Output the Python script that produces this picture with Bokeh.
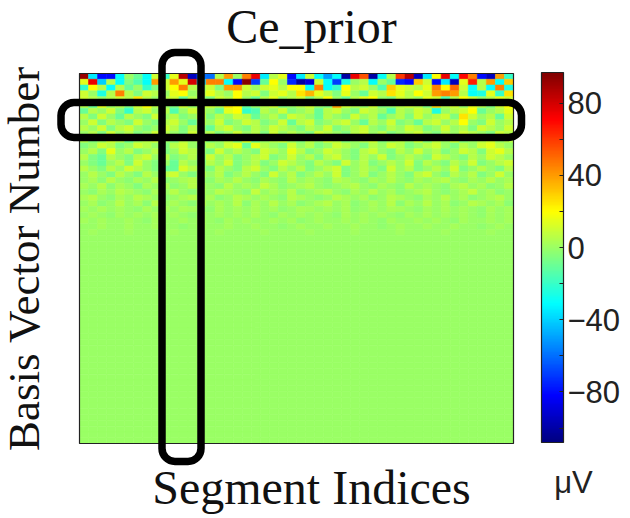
import numpy as np
from bokeh.plotting import figure
from bokeh.models import (ColumnDataSource, LinearColorMapper, ColorBar, FixedTicker,
                          Range1d, Label, BoxAnnotation)
from bokeh.transform import transform
from bokeh.embed import file_html
from bokeh.resources import INLINE

# ---------------- data (values in microvolts) ----------------
n_segments = 48
n_basis = 64
clim_low, clim_high = -108, 97
cbar_ticks = [-80, -40, 0, 40, 80]
cbar_minor = [-100, -60, -20, 20, 60]

rows_strong = [
    [92,-35,-80,-80,-30,0,-10,-30,10,-20,15,85,-95,-60,-60,5,40,0,45,75,-35,5,15,-80,-35,10,-30,-50,-30,-100,75,55,-100,-30,5,60,85,-95,-35,20,75,-30,70,45,-80,-95,40,-20],
    [15,75,-40,5,-30,-5,-15,-30,40,10,40,15,80,-40,45,45,-30,-80,95,-70,-10,20,0,-75,-100,-90,10,-30,-70,-25,0,5,-30,0,-10,-75,-80,30,10,-80,-35,-95,15,65,5,40,-30,30],
    [-20,20,5,-30,5,-10,0,-20,-5,10,20,45,5,0,10,-5,40,40,10,0,10,15,5,20,20,-30,45,-30,-20,20,5,10,0,-15,30,15,10,5,15,45,20,50,10,-30,5,-30,45,-25],
    [10,0,-25,5,45,5,-5,10,5,0,15,20,0,5,15,5,0,20,5,10,-5,10,15,5,25,35,15,5,-5,15,0,-10,10,5,25,15,5,20,10,40,45,40,5,-30,-25,15,-20,25],
    [10,5,0,5,10,5,25,5,0,5,10,-10,5,0,-5,10,5,20,0,-10,5,15,0,5,10,-5,5,20,0,-10,5,15,20,0,-5,10,5,0,15,10,-15,5,20,10,0,5,15,10],
]

rows_medium = [
    [5,-10,15,0,5,-5,10,20,5,0,-5,10,0,5,10,5,25,20,-10,0,5,10,-5,0,5,10,0,-5,40,10,5,0,10,-5,0,5,10,5,-5,30,5,10,0,15,5,-5,10,20],
    [-10,5,0,10,-5,-20,5,10,0,5,-15,0,10,5,0,-10,15,20,-20,-15,5,0,10,-5,0,5,-10,5,10,0,-5,10,5,0,-15,5,0,10,5,-25,0,5,10,20,-10,0,5,15],
    [5,-5,10,0,-10,5,0,-5,10,0,5,-5,0,10,-5,5,0,10,5,-10,0,5,-5,10,5,0,-10,5,0,-5,10,0,5,-10,0,5,-5,10,0,5,10,-5,25,10,0,5,-10,10],
    [0,10,-5,5,0,-5,10,0,-5,5,10,0,-10,5,0,10,-5,0,10,5,-5,0,10,-10,5,10,-5,0,5,10,0,-10,5,0,10,-5,0,-10,5,10,0,5,20,0,-5,10,0,5],
    [5,0,10,-5,5,10,0,-5,0,10,5,-5,5,0,-10,5,10,0,-5,5,0,10,5,0,-5,5,0,10,-5,0,5,10,0,-5,5,0,10,5,-5,0,10,0,5,-5,10,5,0,10],
    [0,5,-5,10,0,5,-5,0,10,5,0,-5,10,0,5,-5,0,10,0,5,-5,10,0,5,0,-5,10,5,0,-5,5,10,0,5,-5,0,5,10,0,-5,5,0,10,5,0,-5,10,5],
    [5,-5,0,10,5,-10,0,5,10,0,-5,5,0,10,-5,0,5,-5,15,-10,0,5,10,0,-5,5,0,10,5,-5,0,5,10,-5,0,5,0,10,-5,5,0,10,-5,0,5,10,0,5],
    [-5,0,10,5,-5,0,10,5,0,-5,5,10,0,-5,5,0,10,15,-10,15,5,0,-5,10,0,5,-5,0,10,5,0,-5,5,0,10,5,-5,0,5,10,0,-5,5,0,10,15,5,0],
    [0,5,-5,15,0,5,-5,0,5,-5,0,10,5,0,-5,10,0,5,0,-5,10,5,0,15,5,-5,0,10,5,0,-5,5,10,0,-5,5,0,10,0,5,-5,0,10,5,-5,10,15,5],
    [5,-5,-10,5,0,-5,5,10,0,5,-5,0,5,-5,10,0,5,-5,0,5,10,-5,0,10,0,5,-5,5,10,0,-5,5,0,10,-5,0,5,0,-5,10,5,0,-5,5,0,10,5,0],
    [0,-5,-10,0,5,-5,10,0,-5,0,-10,5,0,-5,5,0,10,-5,0,5,-5,0,10,5,0,-5,5,0,-5,10,0,5,-5,0,5,0,10,-5,5,0,-5,5,0,10,-5,0,5,10],
    [5,0,-5,5,0,10,5,0,-5,-10,-10,12,5,0,-5,5,0,-5,5,10,0,-5,5,0,5,-5,0,5,10,-5,0,5,0,-5,10,0,5,-5,0,5,0,10,-5,0,5,0,-5,5],
    [0,5,0,-5,5,0,-5,5,0,5,10,0,-5,5,0,5,-5,0,5,0,-5,10,0,5,-5,0,5,0,10,-5,0,5,-5,0,5,0,-5,5,10,0,-5,5,0,5,-5,0,10,0],
]

rows_weak = [
    [0,3,-3,5,0,-3,3,0,5,-3,0,3,5,0,-3,3,0,5,0,-3,3,0,-3,5,0,3,0,-3,5,3,0,-3,3,0,5,0,-3,3,0,3,5,0,-3,3,0,5,0,3],
    [3,0,5,-3,3,0,-5,3,0,3,-3,0,5,3,0,-3,5,0,3,0,8,3,-3,0,3,5,0,-3,0,3,5,0,-3,3,0,-3,5,0,3,0,-3,3,5,0,3,-3,0,5],
    [0,-3,3,0,5,3,0,-3,3,0,5,0,-3,3,0,5,3,0,-3,8,0,3,0,5,-3,0,3,5,0,-3,3,0,5,0,3,-3,0,3,5,0,-3,0,3,8,0,3,-3,0],
    [3,5,0,-3,3,0,5,3,0,-3,0,3,5,0,3,-3,0,5,3,0,3,0,-3,5,3,0,-3,0,5,3,0,3,-3,0,5,3,0,-3,3,0,5,0,3,-3,0,3,5,0],
    [0,3,-3,0,5,0,3,-3,5,0,3,0,-3,5,0,3,0,5,-3,3,0,5,0,3,-3,0,3,5,0,3,-3,0,3,0,5,-3,3,0,5,0,3,-3,0,5,3,0,3,-3],
    [2,0,3,0,2,0,-2,3,0,2,0,3,2,0,-2,3,0,2,0,3,0,2,-2,0,3,2,0,2,0,3,-2,0,2,0,3,2,0,-2,2,0,3,0,2,0,-2,3,0,2],
    [0,2,0,-2,2,0,2,0,3,0,2,0,-2,2,0,2,0,2,0,3,0,-2,2,0,2,0,2,0,-2,3,0,2,0,2,0,-2,2,0,3,0,2,0,2,0,-2,2,0,2],
    [2,0,2,0,0,2,0,-2,2,0,0,2,0,2,0,-2,2,0,2,0,0,2,0,2,-2,0,2,0,0,2,0,2,0,-2,2,0,0,2,0,2,0,-2,2,0,0,2,0,2],
    [0,0,2,0,0,2,0,0,2,0,0,-2,0,2,0,0,2,0,0,2,0,0,-2,0,2,0,0,2,0,0,2,0,0,-2,0,2,0,0,2,0,0,2,0,0,-2,0,2,0],
    [0,1,0,0,0,1,0,0,0,0,1,0,0,0,0,1,0,0,0,0,1,0,0,0,0,1,0,0,0,0,1,0,0,0,0,1,0,0,0,0,1,0,0,0,0,1,0,0],
]

# the remaining basis vectors are flat (0 uV) in the picture
rows_flat = [[0] * n_segments for _ in range(n_basis - len(rows_strong) - len(rows_medium) - len(rows_weak))]

all_rows = rows_strong + rows_medium + rows_weak + rows_flat

# ---------------- build cell table ----------------
xs, ys, vals = [], [], []
for r, row in enumerate(all_rows):
    for c, v in enumerate(row):
        xs.append(c + 0.5)
        ys.append(n_basis - r - 0.5)   # basis vector 1 at the top
        vals.append(v)
src = ColumnDataSource(dict(x=xs, y=ys, v=vals))

# jet colormap
def jet(n=256):
    out = []
    for t in np.linspace(0, 1, n):
        r = np.clip(1.5 - abs(4 * t - 3), 0, 1)
        g = np.clip(1.5 - abs(4 * t - 2), 0, 1)
        b = np.clip(1.5 - abs(4 * t - 1), 0, 1)
        out.append("#%02x%02x%02x" % (int(round(r * 255)), int(round(g * 255)), int(round(b * 255))))
    return out

mapper = LinearColorMapper(palette=jet(), low=clim_low, high=clim_high)

# ---------------- layout (pixels) ----------------
W, H = 630, 518
hm_left, hm_right = 79, 513     # heatmap frame in canvas pixels
hm_top, hm_bot = 73, 443
sx = (hm_right - hm_left) / n_segments
sy = (hm_bot - hm_top) / n_basis
x_range = Range1d(-hm_left / sx, n_segments + (W - hm_right) / sx)
y_range = Range1d(n_basis - (H - hm_top) / sy, n_basis + hm_top / sy)

p = figure(width=W, height=H, x_range=x_range, y_range=y_range,
           output_backend="svg", toolbar_location=None, min_border=0,
           x_axis_location=None, y_axis_location=None)
p.outline_line_color = None
p.grid.grid_line_color = None
p.background_fill_color = "white"

p.rect(x="x", y="y", width=1, height=1, source=src,
       fill_color=transform("v", mapper), line_color=transform("v", mapper), line_width=0.6)

# heatmap border
p.quad(left=[0], right=[n_segments], bottom=[0], top=[n_basis],
       fill_color=None, line_color="#222222", line_width=1.2)

# highlight rounded boxes
def px2x(px):
    return (px - hm_left) / sx
def px2y(py):
    return n_basis - (py - hm_top) / sy

box_style = dict(fill_color=None, fill_alpha=0, line_color="black", line_alpha=1.0,
                 line_width=7.5, border_radius=13, level="overlay")
p.add_layout(BoxAnnotation(left=px2x(161.5), right=px2x(200.5), top=px2y(52), bottom=px2y(461),
                           **box_style))
p.add_layout(BoxAnnotation(left=px2x(60.5), right=px2x(521), top=px2y(102), bottom=px2y(137),
                           **box_style))

# color bar
cb = ColorBar(color_mapper=mapper, location=(541, H - 442), width=22, height=370,
              padding=0, margin=0,
              ticker=FixedTicker(ticks=cbar_ticks, minor_ticks=cbar_minor),
              major_label_overrides={-80: "\u221280", -40: "\u221240", 0: "0", 40: "40", 80: "80"},
              major_label_text_font="Liberation Sans", major_label_text_font_size="31px",
              major_label_text_color="#222222",
              major_tick_line_color="#222222", major_tick_in=4, major_tick_out=0,
              minor_tick_line_color="#222222", minor_tick_in=4, minor_tick_out=0,
              label_standoff=4,
              bar_line_color="#222222", bar_line_width=1.2,
              border_line_color=None, background_fill_color=None)
p.add_layout(cb, "center")

serif = "Liberation Serif"
p.add_layout(Label(x=311, y=H - 26, x_units="screen", y_units="screen", text="Ce_prior",
                   text_font=serif, text_font_size="48px", text_align="center",
                   text_baseline="alphabetic", text_color="#111111"))
p.add_layout(Label(x=311, y=H - 487, x_units="screen", y_units="screen", text="Segment Indices",
                   text_font=serif, text_font_size="48px", text_align="center",
                   text_baseline="alphabetic", text_color="#111111"))
p.add_layout(Label(x=23, y=H - 258, x_units="screen", y_units="screen", text="Basis Vector Number",
                   text_font=serif, text_font_size="45px", text_align="center",
                   text_baseline="alphabetic", angle=np.pi / 2, text_color="#111111"))
p.add_layout(Label(x=573, y=H - 482, x_units="screen", y_units="screen", text="\u03bcV",
                   text_font="Liberation Sans", text_font_size="31px", text_align="center",
                   text_baseline="alphabetic", text_color="#222222"))

open("out.html", "w").write(file_html(p, INLINE))
